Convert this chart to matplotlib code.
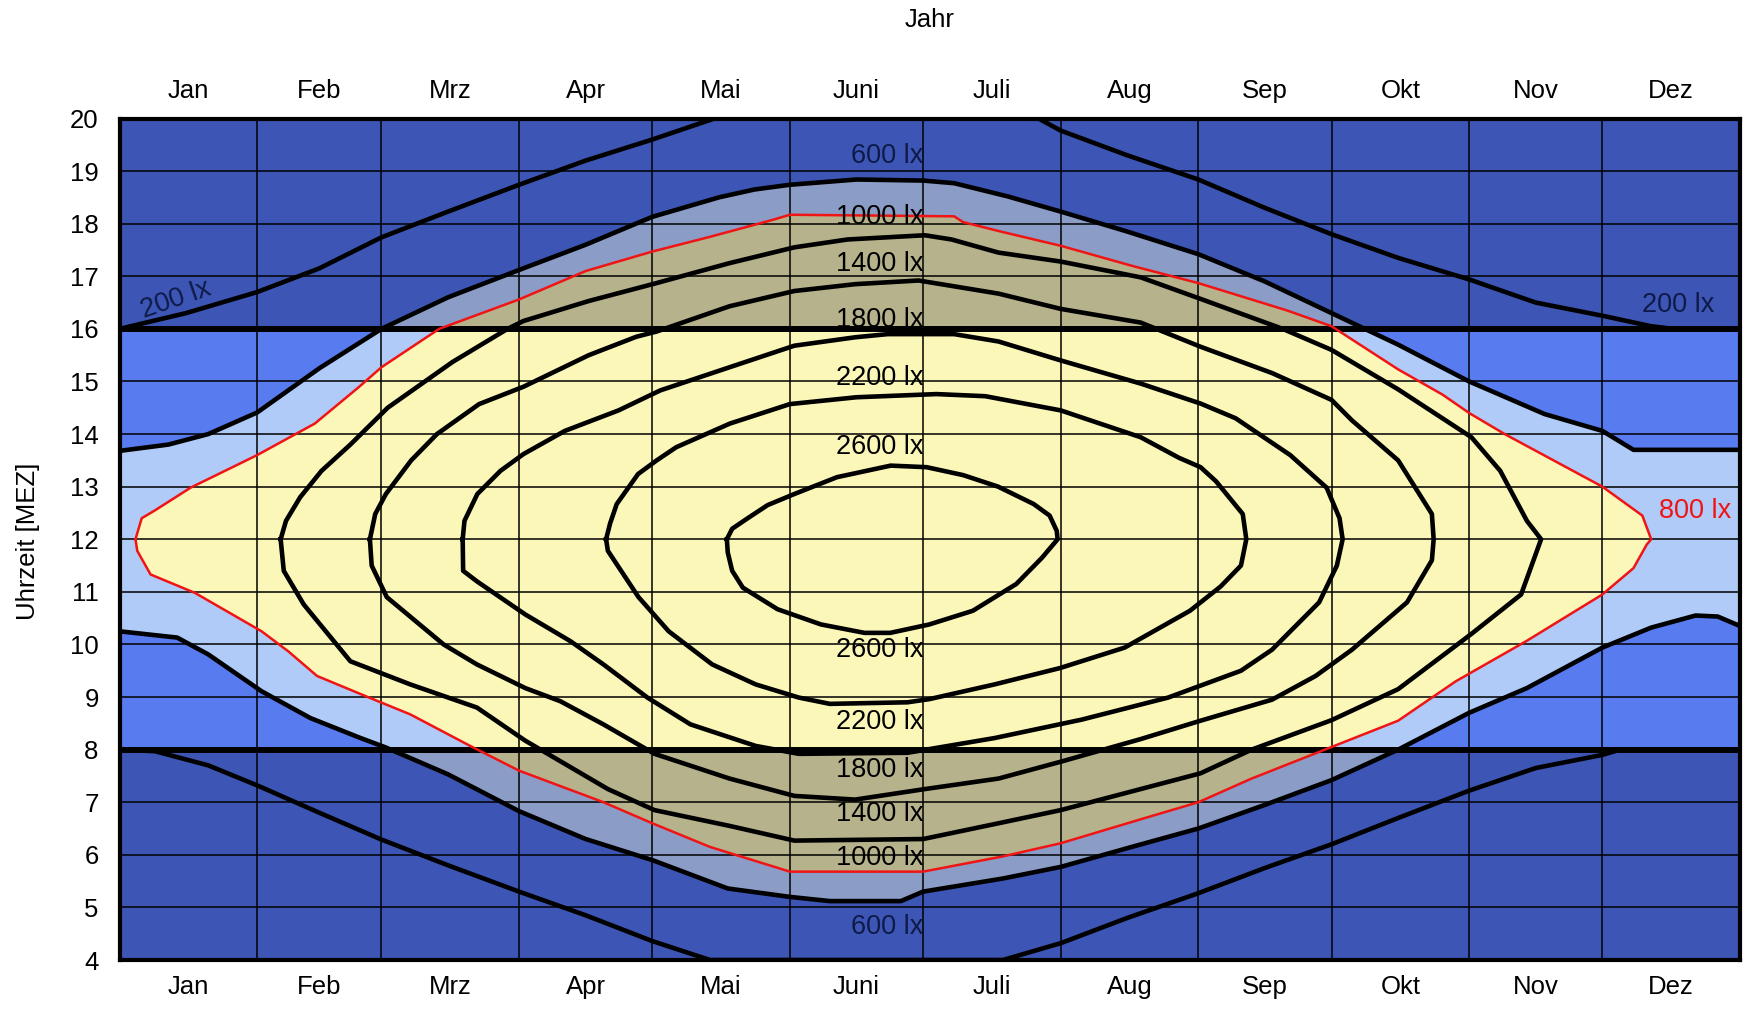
import numpy as np
import matplotlib
matplotlib.use('Agg')
from matplotlib import pyplot as plt
from matplotlib.patches import Rectangle

plt.rcParams['font.family'] = ['Liberation Sans', 'DejaVu Sans']

# x axis in day of year, y axis in hour (MEZ)
month_names = ['Jan', 'Feb', 'Mrz', 'Apr', 'Mai', 'Juni', 'Juli', 'Aug', 'Sep', 'Okt', 'Nov', 'Dez']
month_start = [0, 31, 59, 90, 120, 151, 181, 212, 243, 273, 304, 334, 365]
hours = list(range(4, 21))

# isolux lines: afternoon (up) and morning (low) branch
lx200_up_day = [0, 15, 31, 45, 59, 74, 90, 105, 120, 134, 207, 212, 227, 243, 258, 273, 288, 304, 319, 334, 345, 350, 365]
lx200_up_h = [16.0, 16.3, 16.7, 17.15, 17.74, 18.23, 18.74, 19.2, 19.6, 20.0, 20.0, 19.77, 19.3, 18.84, 18.3, 17.8, 17.35, 16.94, 16.5, 16.25, 16.05, 16.0, 16.0]
lx200_low_day = [0, 8, 20, 31, 45, 59, 74, 90, 105, 120, 133, 199, 212, 227, 243, 258, 273, 288, 304, 319, 334, 338, 365]
lx200_low_h = [8.0, 7.97, 7.7, 7.32, 6.8, 6.29, 5.8, 5.3, 4.85, 4.36, 4.0, 4.0, 4.32, 4.8, 5.27, 5.75, 6.2, 6.7, 7.22, 7.65, 7.9, 8.0, 8.0]

lx600_up_day = [0, 11, 20, 31, 45, 59, 74, 90, 105, 120, 135, 143, 151, 166, 181, 188, 200, 212, 227, 243, 258, 273, 288, 304, 321, 334, 341, 365]
lx600_up_h = [13.68, 13.8, 14.0, 14.41, 15.25, 16.0, 16.6, 17.12, 17.6, 18.13, 18.5, 18.65, 18.74, 18.84, 18.82, 18.77, 18.52, 18.23, 17.85, 17.42, 16.9, 16.3, 15.7, 15.0, 14.38, 14.06, 13.7, 13.7]
lx600_low_day = [0, 13, 20, 32, 43, 54, 60, 74, 90, 105, 120, 137, 151, 160, 176, 181, 199, 212, 228, 243, 258, 273, 288, 304, 317, 334, 345, 355, 360, 365]
lx600_low_h = [10.25, 10.13, 9.81, 9.11, 8.6, 8.23, 8.04, 7.53, 6.83, 6.3, 5.9, 5.36, 5.2, 5.12, 5.12, 5.3, 5.55, 5.77, 6.15, 6.5, 6.95, 7.42, 8.0, 8.7, 9.17, 9.94, 10.32, 10.55, 10.53, 10.35]

lx800_up_day = [3.6, 5, 8, 16, 31, 44, 54, 59, 72, 90, 105, 120, 133, 147, 151, 188, 190, 199, 212, 228, 243, 263, 273, 288, 298, 304, 312, 334, 343, 345]
lx800_up_h = [12.0, 12.4, 12.55, 12.98, 13.6, 14.2, 14.9, 15.27, 16.0, 16.56, 17.1, 17.47, 17.75, 18.07, 18.17, 18.14, 18.03, 17.84, 17.58, 17.2, 16.87, 16.35, 16.05, 15.23, 14.75, 14.4, 14.0, 13.0, 12.45, 12.0]
lx800_low_day = [3.6, 4, 7, 17, 32, 38, 44.5, 56.5, 65.5, 79, 90, 109, 120, 133, 151, 181, 199, 212, 231, 243, 255, 267, 273, 288, 301, 317, 334, 341, 344, 345]
lx800_low_h = [12.0, 11.78, 11.33, 10.98, 10.25, 9.87, 9.4, 8.98, 8.67, 8.07, 7.6, 7.0, 6.6, 6.15, 5.68, 5.68, 5.97, 6.22, 6.7, 7.0, 7.45, 7.85, 8.05, 8.55, 9.3, 10.07, 10.95, 11.45, 11.9, 12.0]

lx1000_up_day = [36.3, 37.5, 40.7, 45.5, 52, 60.4, 75, 87.4, 91, 105.7, 120.5, 137.4, 152, 164, 181.4, 187.4, 198, 212, 230, 243.5, 262, 273, 288, 304.5, 311, 317, 320.2]
lx1000_up_h = [12.0, 12.35, 12.8, 13.3, 13.8, 14.5, 15.37, 16.0, 16.15, 16.53, 16.86, 17.25, 17.55, 17.7, 17.78, 17.7, 17.45, 17.28, 16.98, 16.57, 16.0, 15.6, 14.85, 13.94, 13.3, 12.35, 12.0]
lx1000_low_day = [36.3, 37, 41.5, 52, 65.5, 80.5, 91.4, 110, 120.5, 137.4, 152, 181, 198, 212, 243.5, 255, 273, 288, 304.5, 315.7, 320.2]
lx1000_low_h = [12.0, 11.4, 10.76, 9.68, 9.24, 8.8, 8.17, 7.25, 6.85, 6.55, 6.27, 6.3, 6.6, 6.85, 7.55, 8.0, 8.56, 9.15, 10.2, 10.95, 12.0]

lx1400_up_day = [56.4, 57.6, 60, 65.7, 71.5, 81, 91, 105.7, 116.4, 121, 137.4, 152, 165.7, 180, 198, 212, 230, 243.5, 259.6, 273, 277.6, 288, 295.6, 296]
lx1400_up_h = [12.0, 12.48, 12.86, 13.5, 14.0, 14.57, 14.9, 15.5, 15.85, 15.95, 16.43, 16.72, 16.85, 16.92, 16.67, 16.38, 16.12, 15.66, 15.16, 14.65, 14.26, 13.5, 12.48, 12.0]
lx1400_low_day = [56.4, 56.8, 60.2, 73, 80.5, 91.4, 99.3, 109, 120.5, 137.4, 152, 165.7, 181.4, 198, 212, 230, 243.5, 259.6, 269.4, 277.6, 290, 295.6, 296]
lx1400_low_h = [12.0, 11.5, 10.9, 10.0, 9.62, 9.17, 8.92, 8.48, 7.92, 7.45, 7.12, 7.05, 7.25, 7.45, 7.77, 8.2, 8.55, 8.95, 9.4, 9.9, 10.8, 11.6, 12.0]

lx1800_up_day = [77.3, 77.7, 80.6, 85.8, 91, 100.3, 112.4, 121.8, 137.4, 152, 165.7, 173, 188, 198, 212, 230, 243.5, 251.4, 263.7, 271.9, 274.8, 275.5]
lx1800_up_h = [12.0, 12.35, 12.86, 13.3, 13.62, 14.06, 14.45, 14.83, 15.27, 15.68, 15.84, 15.9, 15.9, 15.76, 15.4, 14.96, 14.58, 14.3, 13.6, 12.98, 12.4, 12.0]
lx1800_low_day = [77.3, 77.4, 80.5, 91.4, 101.6, 109, 118.9, 128.6, 143.3, 153, 177.5, 197.1, 216.7, 236.2, 252.6, 259.6, 270.2, 274.2, 275.5]
lx1800_low_h = [12.0, 11.4, 11.2, 10.57, 10.06, 9.62, 8.99, 8.48, 8.07, 7.92, 7.94, 8.22, 8.57, 8.99, 9.5, 9.9, 10.8, 11.5, 12.0]

lx2200_up_day = [109.6, 110.5, 112, 116.8, 121, 125.4, 137.5, 151, 166, 184, 195, 212, 230, 238.6, 243.5, 247, 253, 253.8]
lx2200_up_h = [12.0, 12.3, 12.67, 13.24, 13.5, 13.75, 14.2, 14.57, 14.7, 14.76, 14.72, 14.45, 13.94, 13.55, 13.37, 13.1, 12.48, 12.0]
lx2200_low_day = [109.6, 110, 116.9, 123.7, 133.5, 143.3, 153, 160, 177.5, 182.4, 197.1, 211.8, 226.4, 241.1, 248, 252.6, 253.8]
lx2200_low_h = [12.0, 11.78, 10.9, 10.25, 9.62, 9.24, 8.99, 8.87, 8.9, 8.96, 9.24, 9.55, 9.94, 10.64, 11.1, 11.5, 12.0]

lx2600_up_day = [136.8, 138, 141.5, 146, 152, 161.6, 173.7, 181.8, 190, 197.9, 205.9, 209.5, 211.1, 211.3]
lx2600_up_h = [12.0, 12.2, 12.4, 12.65, 12.86, 13.18, 13.4, 13.37, 13.22, 13.0, 12.67, 12.45, 12.16, 12.0]
lx2600_low_day = [136.8, 137, 138, 140.4, 148.2, 158, 167.8, 173.6, 182.4, 192.2, 202, 207.8, 211.3]
lx2600_low_h = [12.0, 11.75, 11.4, 11.08, 10.67, 10.38, 10.22, 10.22, 10.38, 10.64, 11.15, 11.65, 12.0]

# labels at the solstice column
label_texts = ['600 lx', '1000 lx', '1400 lx', '1800 lx', '2200 lx', '2600 lx']
label_top_h = [19.28, 18.13, 17.24, 16.17, 15.07, 13.75]
label_bot_h = [4.62, 5.93, 6.78, 7.61, 8.53, 9.89]

col_dark = '#3d56b5'
col_band = '#587bf0'
col_grayblue = '#8b9dc6'
col_lightblue = '#b0cbf7'
col_khaki = '#b6b28b'
col_yellow = '#fbf7b9'
col_red = '#f01414'
col_navy = '#0e1a48'

fig = plt.figure(figsize=(17.5, 10.09), dpi=100)
ax = fig.add_axes([119.5 / 1750, 1 - 960 / 1009, (1740 - 119.5) / 1750, (960 - 118.5) / 1009])
ax.set_facecolor(col_dark)
ax.set_xlim(0, 365)
ax.set_ylim(4, 20)

# working hours band 8-16 is drawn in brighter colours
ax.axhspan(8, 16, color=col_band, lw=0, zorder=0.5)
band = Rectangle((0, 8), 365, 8, transform=ax.transData)


def ring(up_d, up_h, lo_d, lo_h):
    return np.r_[up_d, lo_d[::-1]], np.r_[up_h, lo_h[::-1]]


x600, y600 = ring(lx600_up_day, lx600_up_h, lx600_low_day, lx600_low_h)
x800, y800 = ring(lx800_up_day, lx800_up_h, lx800_low_day, lx800_low_h)

z = 1.0
for xs, ys, c_out, c_in in [(x600, y600, col_grayblue, col_lightblue), (x800, y800, col_khaki, col_yellow)]:
    ax.fill(xs, ys, color=c_out, lw=0, zorder=z)
    p = ax.fill(xs, ys, color=c_in, lw=0, zorder=z + 0.1)[0]
    p.set_clip_path(band)
    z += 0.2

# grid
ax.set_xticks(month_start)
ax.set_xticklabels([])
ax.set_xticks([(a + b) / 2 for a, b in zip(month_start[:-1], month_start[1:])], minor=True)
ax.set_xticklabels(month_names, minor=True)
ax.set_yticks(hours)
ax.set_axisbelow(False)
ax.grid(True, which='major', color='black', lw=1.1)
ax.axhline(8, color='black', lw=4.3, zorder=3)
ax.axhline(16, color='black', lw=4.3, zorder=3)

ax.tick_params(axis='x', which='both', length=0, top=True, labeltop=True, bottom=True, labelbottom=True,
               labelsize=18.5, pad=11)
ax.tick_params(axis='y', length=0, labelsize=18.5, pad=15)
for s in ax.spines.values():
    s.set_linewidth(3)
    s.set_zorder(6)

# contour lines
lw = 3.3
ax.plot(lx200_up_day, lx200_up_h, color='black', lw=lw, zorder=4)
ax.plot(lx200_low_day, lx200_low_h, color='black', lw=lw, zorder=4)
ax.plot(lx600_up_day, lx600_up_h, color='black', lw=lw, zorder=4)
ax.plot(lx600_low_day, lx600_low_h, color='black', lw=lw, zorder=4)
for ud, uh, ld, lh in [(lx1000_up_day, lx1000_up_h, lx1000_low_day, lx1000_low_h),
                       (lx1400_up_day, lx1400_up_h, lx1400_low_day, lx1400_low_h),
                       (lx1800_up_day, lx1800_up_h, lx1800_low_day, lx1800_low_h),
                       (lx2200_up_day, lx2200_up_h, lx2200_low_day, lx2200_low_h),
                       (lx2600_up_day, lx2600_up_h, lx2600_low_day, lx2600_low_h)]:
    xs, ys = ring(ud, uh, ld, lh)
    ax.plot(xs, ys, color='black', lw=lw, zorder=4, solid_joinstyle='round')
ax.plot(x800, y800, color=col_red, lw=1.8, zorder=4.5)

# labels
for i, t in enumerate(label_texts):
    c = col_navy if t == '600 lx' else 'black'
    ax.text(181, label_top_h[i], t, ha='right', va='center', fontsize=19.5, color=c, zorder=5)
    ax.text(181, label_bot_h[i], t, ha='right', va='center', fontsize=19.5, color=c, zorder=5)
ax.text(12.8, 16.56, '200 lx', ha='center', va='center', fontsize=19.5, color=col_navy, rotation=19, zorder=5)
ax.text(351, 16.45, '200 lx', ha='center', va='center', fontsize=19.5, color=col_navy, zorder=5)
ax.text(355, 12.54, '800 lx', ha='center', va='center', fontsize=19.5, color=col_red, zorder=5)

fig.text((119.5 + 1740) / 2 / 1750, 1 - 20 / 1009, 'Jahr', ha='center', va='center', fontsize=18.5)
fig.text(28 / 1750, 1 - 541 / 1009, 'Uhrzeit [MEZ]', ha='center', va='center', rotation=90, fontsize=18.5)

fig.savefig('out.png', dpi=100)
